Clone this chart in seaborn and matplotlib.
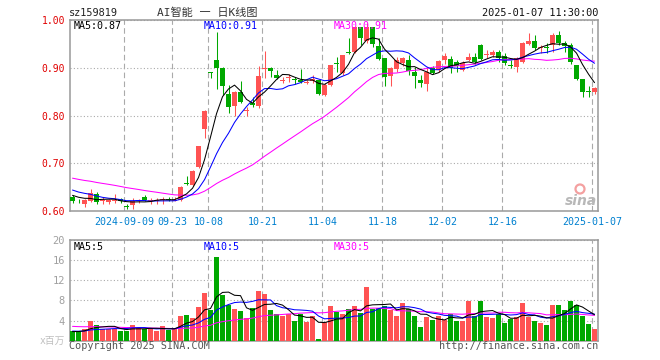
import numpy as np
import pandas as pd
import matplotlib
matplotlib.use("Agg")
import matplotlib.pyplot as plt
from matplotlib.patches import Ellipse
import seaborn as sns

# ---------------- data ----------------
opens = [0.630, 0.621, 0.615, 0.621, 0.635, 0.620, 0.619, 0.621, 0.626, 0.610,
         0.613, 0.621, 0.629, 0.621, 0.620, 0.622, 0.626, 0.621, 0.623, 0.657,
         0.655, 0.692, 0.771, 0.891, 0.916, 0.900, 0.845, 0.820, 0.849, 0.809,
         0.827, 0.820, 0.898, 0.899, 0.885, 0.873, 0.878, 0.876, 0.875, 0.869,
         0.873, 0.874, 0.843, 0.864, 0.909, 0.888, 0.933, 0.934, 0.986, 0.955,
         0.985, 0.946, 0.920, 0.883, 0.897, 0.909, 0.916, 0.892, 0.874, 0.867,
         0.899, 0.896, 0.916, 0.918, 0.911, 0.896, 0.916, 0.923, 0.948, 0.927,
         0.927, 0.932, 0.925, 0.905, 0.902, 0.911, 0.950, 0.957, 0.941, 0.942,
         0.948, 0.969, 0.951, 0.948, 0.906, 0.876, 0.851, 0.850]
highs = [0.633, 0.625, 0.626, 0.646, 0.639, 0.630, 0.626, 0.635, 0.628, 0.614,
         0.627, 0.626, 0.633, 0.628, 0.627, 0.629, 0.629, 0.629, 0.653, 0.674,
         0.685, 0.737, 0.811, 0.892, 0.975, 0.901, 0.864, 0.851, 0.872, 0.817,
         0.838, 0.904, 0.935, 0.901, 0.895, 0.880, 0.886, 0.880, 0.897, 0.875,
         0.885, 0.874, 0.868, 0.906, 0.922, 0.927, 0.963, 0.986, 0.986, 0.993,
         0.985, 0.962, 0.920, 0.902, 0.922, 0.923, 0.927, 0.902, 0.885, 0.902,
         0.904, 0.916, 0.930, 0.925, 0.916, 0.914, 0.931, 0.930, 0.950, 0.937,
         0.937, 0.937, 0.930, 0.916, 0.923, 0.953, 0.972, 0.969, 0.948, 0.951,
         0.972, 0.978, 0.955, 0.951, 0.906, 0.876, 0.862, 0.860]
lows = [0.617, 0.616, 0.608, 0.619, 0.615, 0.614, 0.615, 0.617, 0.616, 0.605,
        0.605, 0.616, 0.620, 0.615, 0.614, 0.615, 0.620, 0.620, 0.621, 0.654,
        0.653, 0.690, 0.752, 0.878, 0.855, 0.843, 0.805, 0.799, 0.827, 0.799,
        0.817, 0.815, 0.878, 0.880, 0.876, 0.868, 0.870, 0.866, 0.868, 0.865,
        0.868, 0.843, 0.840, 0.862, 0.892, 0.885, 0.929, 0.930, 0.948, 0.951,
        0.944, 0.916, 0.862, 0.862, 0.892, 0.904, 0.885, 0.857, 0.860, 0.852,
        0.887, 0.892, 0.908, 0.888, 0.892, 0.894, 0.914, 0.908, 0.916, 0.920,
        0.923, 0.913, 0.906, 0.899, 0.892, 0.909, 0.948, 0.937, 0.930, 0.930,
        0.934, 0.948, 0.933, 0.908, 0.874, 0.839, 0.839, 0.846]
closes = [0.620, 0.620, 0.623, 0.637, 0.618, 0.624, 0.622, 0.623, 0.620, 0.609,
          0.620, 0.624, 0.622, 0.624, 0.623, 0.625, 0.623, 0.624, 0.651, 0.656,
          0.684, 0.736, 0.810, 0.889, 0.900, 0.862, 0.817, 0.850, 0.829, 0.811,
          0.822, 0.883, 0.900, 0.893, 0.879, 0.875, 0.880, 0.875, 0.870, 0.871,
          0.876, 0.845, 0.864, 0.906, 0.908, 0.927, 0.931, 0.986, 0.962, 0.985,
          0.949, 0.918, 0.881, 0.899, 0.916, 0.920, 0.894, 0.883, 0.869, 0.892,
          0.890, 0.914, 0.925, 0.899, 0.904, 0.910, 0.923, 0.911, 0.918, 0.929,
          0.934, 0.921, 0.909, 0.904, 0.920, 0.951, 0.957, 0.942, 0.943, 0.941,
          0.969, 0.951, 0.946, 0.911, 0.876, 0.850, 0.850, 0.857]
volumes = [1.85, 1.85, 2.4, 4.0, 3.05, 2.4, 2.4, 2.4, 1.85, 2.0,
           3.05, 2.5, 2.4, 2.4, 2.0, 2.85, 2.2, 2.4, 4.85, 5.1,
           4.5, 6.7, 9.5, 6.15, 16.6, 9.0, 7.0, 6.35, 5.8, 4.5,
           6.5, 9.9, 9.3, 6.0, 5.3, 4.85, 5.3, 4.0, 5.3, 3.7,
           5.0, 0.3, 3.7, 6.8, 5.7, 5.3, 6.3, 6.8, 5.5, 10.7,
           6.3, 6.5, 6.95, 6.0, 4.85, 7.5, 6.3, 5.0, 2.7, 4.7,
           4.2, 4.85, 4.2, 5.4, 4.0, 4.0, 7.95, 4.85, 7.95, 4.7,
           4.5, 5.3, 3.5, 4.3, 4.7, 7.5, 4.7, 4.0, 3.5, 3.05,
           7.15, 7.15, 6.15, 7.95, 7.15, 5.0, 3.3, 2.4]
# estimated closes / volumes of the 29 sessions before the window (for moving averages)
prior_close = [0.695, 0.690, 0.688, 0.692, 0.685, 0.680, 0.686, 0.690, 0.684, 0.678,
               0.682, 0.686, 0.680, 0.676, 0.682, 0.679, 0.675, 0.668, 0.664, 0.663,
               0.662, 0.650, 0.658, 0.652, 0.653, 0.640, 0.634, 0.638, 0.632]
prior_volume = [3.5, 3.1, 3.4, 2.9, 3.6, 3.2, 3.0, 3.4, 3.3, 3.1,
                3.5, 3.2, 3.3, 3.0, 3.4, 3.2, 3.5, 3.8, 3.5, 3.5,
                2.1, 1.9, 2.0, 2.1, 1.9, 1.8, 1.7, 1.9, 1.8]
holidays = ["2024-09-16", "2024-09-17", "2024-10-01", "2024-10-02", "2024-10-03",
            "2024-10-04", "2024-10-07", "2025-01-01"]
tick_dates = ["2024-09-09", "2024-09-23", "2024-10-08", "2024-10-21", "2024-11-04",
              "2024-11-18", "2024-12-02", "2024-12-16", "2025-01-07"]
tick_labels = ["2024-09-09", "09-23", "10-08", "10-21", "11-04", "11-18",
               "12-02", "12-16", "2025-01-07"]
price_ticks = [0.60, 0.70, 0.80, 0.90, 1.00]
vol_ticks = [4, 8, 12, 16, 20]

# ---------------- derived ----------------
days = pd.bdate_range("2024-08-27", "2025-01-07")
days = days[~days.isin(pd.to_datetime(holidays))]
n = len(closes)
idx = np.arange(n)
o = np.array(opens); c = np.array(closes); h = np.array(highs); l = np.array(lows)
v = np.array(volumes)
up = c >= o
RED, GREEN = "#ff5353", "#00a800"
cols = np.where(up, RED, GREEN)

full_c = pd.Series(prior_close + closes)
full_v = pd.Series(prior_volume + volumes)
pma = {k: full_c.rolling(k).mean().values[-n:] for k in (5, 10, 30)}
vma = {k: full_v.rolling(k).mean().values[-n:] for k in (5, 10, 30)}
tick_pos = [days.get_loc(pd.Timestamp(d)) - 0.37 for d in tick_dates]

# ---------------- drawing ----------------
sns.set_style("white")
plt.rcParams["font.family"] = ["DejaVu Sans Mono", "Noto Sans CJK SC"]

W, H = 660, 360
fig = plt.figure(figsize=(W / 100, H / 100), dpi=100)

def fx(x): return x / W
def fy(y): return 1 - y / H

ax = fig.add_axes([fx(70), fy(211), fx(598) - fx(70), fy(20) - fy(211)])
axv = fig.add_axes([fx(70), fy(340.7), fx(598) - fx(70), fy(240) - fy(340.7)])
xlim = (-0.42, n - 1 + 0.58)

MA_COLORS = {5: "black", 10: "#0000ff", 30: "#ff00ff"}

# candles
ax.vlines(idx, l, h, colors=cols, linewidth=0.75, zorder=2)
ax.bar(idx, np.maximum(np.abs(c - o), 0.0016), bottom=np.minimum(o, c),
       width=0.8, color=cols, linewidth=0, zorder=3)
for k in (30, 10, 5):
    sns.lineplot(x=idx, y=pma[k], ax=ax, color=MA_COLORS[k], linewidth=0.75,
                 legend=False, zorder=4, estimator=None)

# volume
axv.bar(idx, v, width=0.8, color=cols, linewidth=0, zorder=3)
for k in (30, 10, 5):
    sns.lineplot(x=idx, y=vma[k], ax=axv, color=MA_COLORS[k], linewidth=0.75,
                 legend=False, zorder=4, estimator=None)

for a in (ax, axv):
    a.set_xlim(*xlim)
    a.set_xticks(tick_pos)
    a.grid(axis="x", linestyle=(0, (5, 3)), color="#aaaaaa", linewidth=0.8, zorder=1)
    a.grid(axis="y", linestyle=(0, (1, 2)), color="#aaaaaa", linewidth=0.8, zorder=1)
    for s in a.spines.values():
        s.set_color("#999999")
        s.set_linewidth(1.1)
    a.set_xlabel(""); a.set_ylabel("")

ax.set_ylim(0.60, 1.00)
ax.set_yticks(price_ticks)
ax.set_yticklabels([f"{t:.2f}" for t in price_ticks])
ax.tick_params(axis="y", length=0, pad=3.6, labelsize=7, labelcolor="#e00000")
ax.set_xticklabels(tick_labels)
ax.tick_params(axis="x", length=0, pad=4, labelsize=7.2, labelcolor="#0080d0")

axv.set_ylim(0, 20)
axv.set_yticks(vol_ticks)
axv.set_yticklabels([str(t) for t in vol_ticks])
axv.tick_params(axis="y", length=0, pad=3.6, labelsize=7.5, labelcolor="#a0a0a0")
axv.set_xticklabels([])
axv.tick_params(axis="x", length=0)

# texts
fig.text(fx(69), fy(13), "sz159819", fontsize=7.4, color="#222222", va="center", ha="left")
fig.text(fx(207), fy(13), "AI智能 一 日K线图", fontsize=8, color="#333333",
         va="center", ha="center")
fig.text(fx(598), fy(13), "2025-01-07 11:30:00", fontsize=7.4, color="#111111",
         va="center", ha="right")

fig.text(fx(74), fy(26), f"MA5:{pma[5][-1]:.2f}", fontsize=7.2, color="black", va="center")
fig.text(fx(204), fy(26), f"MA10:{pma[10][-1]:.2f}", fontsize=7.2, color="#0000ff", va="center")
fig.text(fx(334), fy(26), f"MA30:{pma[30][-1]:.2f}", fontsize=7.2, color="#ff00ff", va="center")

fig.text(fx(74), fy(246.5), f"MA5:{vma[5][-1]:.0f}", fontsize=7.2, color="black", va="center")
fig.text(fx(204), fy(246.5), f"MA10:{vma[10][-1]:.0f}", fontsize=7.2, color="#0000ff", va="center")
fig.text(fx(334), fy(246.5), f"MA30:{vma[30][-1]:.0f}", fontsize=7.2, color="#ff00ff", va="center")

fig.text(fx(65), fy(341), "x百万", fontsize=7, color="#c0c0c0", ha="right", va="center")
fig.text(fx(69), fy(346), "Copyright 2025 SINA.COM", fontsize=7.3, color="#555555",
         ha="left", va="center")
fig.text(fx(598), fy(346), "http://finance.sina.com.cn", fontsize=7.3, color="#555555",
         ha="right", va="center")

# sina watermark
fig.patches.append(Ellipse((fx(580), fy(189)), 9 / W, 9 / H, transform=fig.transFigure,
                           fill=False, edgecolor="#f4a0a0", linewidth=1.6, zorder=5))
fig.text(fx(581), fy(201), "sina", fontsize=10, color="#b8b8b8", ha="center",
         va="center", style="italic", weight="bold", family="DejaVu Sans")

fig.savefig("out.png", dpi=100, facecolor="white")
